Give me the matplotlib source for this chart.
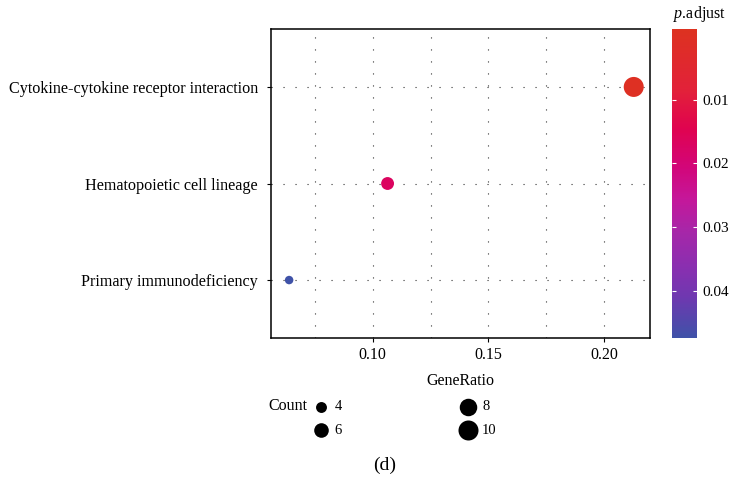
import matplotlib
matplotlib.use("Agg")
import matplotlib.pyplot as plt
from matplotlib.colors import LinearSegmentedColormap, Normalize
import numpy as np

plt.rcParams["font.family"] = ["Liberation Serif", "DejaVu Serif"]
plt.rcParams["mathtext.fontset"] = "custom"
plt.rcParams["mathtext.rm"] = "Liberation Serif"
plt.rcParams["mathtext.it"] = "Liberation Serif:italic"
plt.rcParams["lines.scale_dashes"] = False

pathways = ["Primary immunodeficiency", "Hematopoietic cell lineage",
            "Cytokine-cytokine receptor interaction"]
gene_ratio = [3 / 47, 5 / 47, 10 / 47]
counts = [3, 5, 10]
p_adjust = [0.0474, 0.0168, 0.0001]
legend_counts = [4, 6, 8, 10]
x_ticks = [0.10, 0.15, 0.20]
x_grid = [0.075, 0.10, 0.125, 0.15, 0.175, 0.20]
cbar_ticks = [0.01, 0.02, 0.03, 0.04]

cmap = LinearSegmentedColormap.from_list("padj", [
    (0.0, "#DD3220"), (0.2, "#E2213A"), (0.32, "#E0034F"), (0.45, "#D2067A"),
    (0.55, "#C5179A"), (0.65, "#A826A8"), (0.77, "#8A2FB0"), (0.87, "#6E38B0"),
    (1.0, "#3F52A8")])
norm = Normalize(vmin=-0.0011, vmax=0.0474)


def dot_size(c):
    # marker area in pt^2, area grows linearly with count
    d_px = np.sqrt(np.maximum(-68.6 + 46.9 * np.asarray(c, dtype=float), 1))
    return (d_px * 0.72) ** 2


fig = plt.figure(figsize=(7.32, 4.82), dpi=100)
ax = fig.add_axes([271 / 732, 1 - 338 / 482, 379 / 732, 309 / 482])

dots = (0, (0.8, 7.84))
for xv in x_grid:
    ax.axvline(xv, color="#333333", lw=0.8, linestyle=dots, zorder=0)
for i in range(len(pathways)):
    ax.axhline(i + 1, color="#333333", lw=0.8, linestyle=dots, zorder=0)

ypos = np.arange(1, len(pathways) + 1)
sc = ax.scatter(gene_ratio, ypos, s=dot_size(counts), c=p_adjust, cmap=cmap,
                norm=norm, linewidths=0, zorder=3)

ax.set_xlim(0.056, 0.2198)
ax.set_ylim(0.4, 3.6)
ax.set_xticks(x_ticks)
ax.set_xticklabels(["%.2f" % t for t in x_ticks], fontsize=11.5)
ax.set_yticks(ypos)
ax.set_yticklabels(pathways, fontsize=11.6)
ax.tick_params(axis="y", length=3, width=0.8, color="black", pad=6.4)
ax.tick_params(axis="x", length=3, width=0.8, color="black", pad=3.6)
for sp in ax.spines.values():
    sp.set_linewidth(1.1)
ax.set_xlabel("GeneRatio", fontsize=11.5, labelpad=7)

cax = fig.add_axes([672 / 732, 1 - 338 / 482, 25 / 732, 309 / 482])
cb = fig.colorbar(sc, cax=cax)
cb.outline.set_visible(False)
cb.set_ticks(cbar_ticks)
cb.set_ticklabels(["%.2f" % t for t in cbar_ticks])
cax.invert_yaxis()
cax.tick_params(direction="in", color="white", length=3, width=0.8,
                left=True, right=True, labelsize=11, pad=4)
fig.text(700 / 732, 1 - 14 / 482, "$\\it{p}$.adjust", fontsize=11.5,
         ha="center", va="center")

handles = [ax.scatter([], [], s=dot_size(c), color="black", linewidths=0)
           for c in legend_counts]
fig.legend(handles, [str(c) for c in legend_counts], ncol=2, frameon=False,
           loc="upper left", bbox_to_anchor=(303 / 732, 1 - 393 / 482),
           fontsize=10.5, handlelength=1.4, handletextpad=0.25,
           columnspacing=7.98, labelspacing=0.72, borderpad=0,
           scatterpoints=1)
fig.text(268 / 732, 1 - 406 / 482, "Count", fontsize=11.5, ha="left",
         va="center")
fig.text(385 / 732, 1 - 465 / 482, "(d)", fontsize=14, ha="center",
         va="center")

fig.savefig("out.png", dpi=100)
